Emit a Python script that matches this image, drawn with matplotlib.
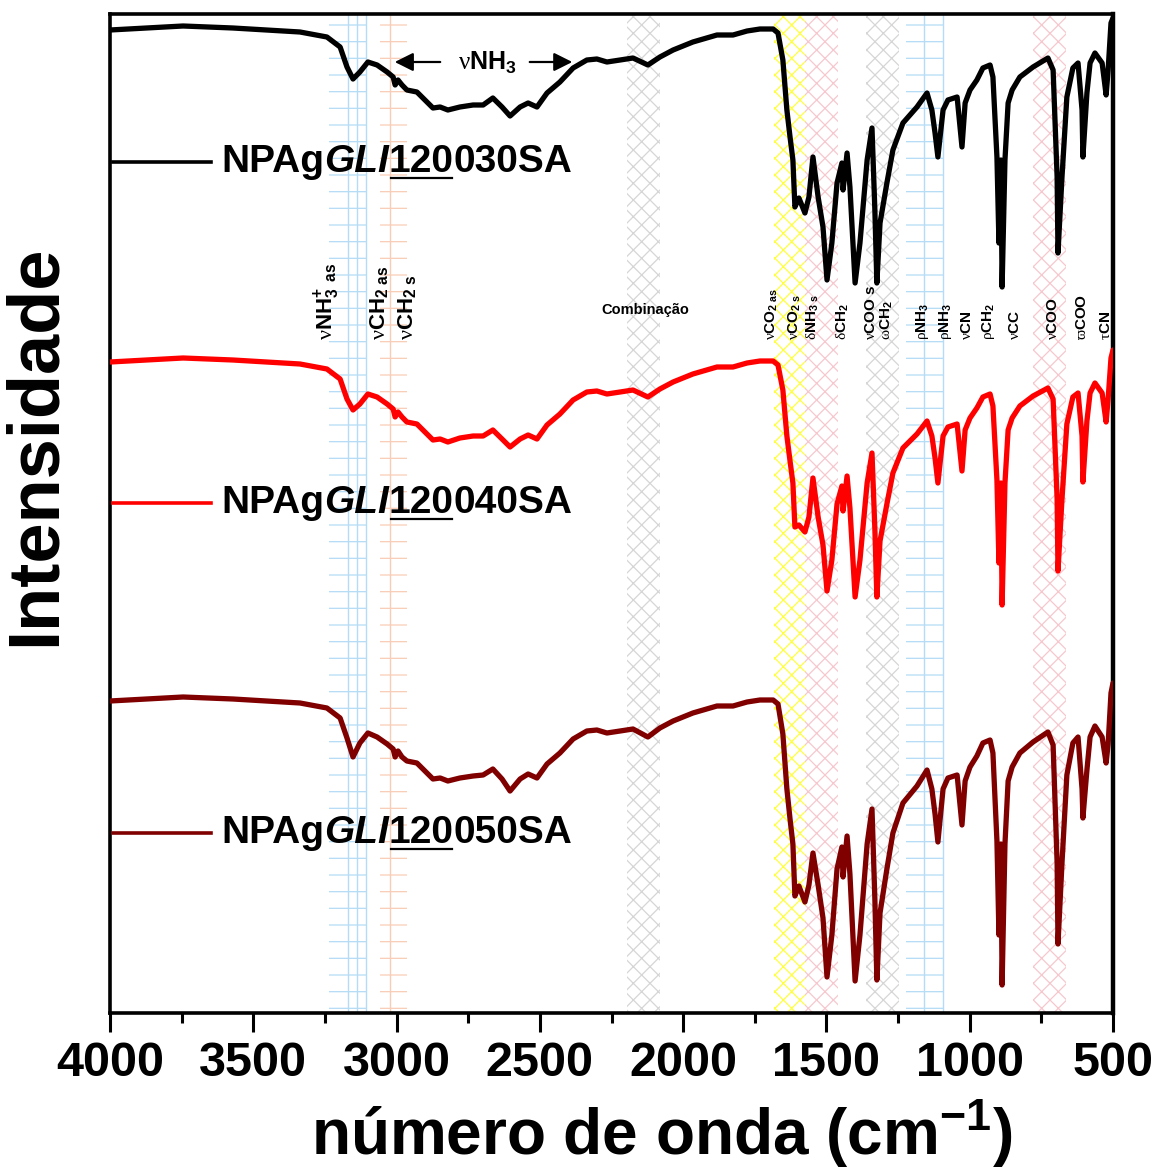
import matplotlib
matplotlib.use("Agg")
import matplotlib.pyplot as plt
from matplotlib.lines import Line2D
from matplotlib.ticker import MultipleLocator

plt.rcParams['font.family'] = ['Liberation Sans', 'DejaVu Sans']
plt.rcParams['mathtext.fontset'] = 'custom'
plt.rcParams['mathtext.rm'] = 'Liberation Serif'
plt.rcParams['mathtext.bf'] = 'Liberation Sans:bold'
plt.rcParams['mathtext.it'] = 'Liberation Sans:italic'
plt.rcParams['hatch.linewidth'] = 0.9

# wavenumber grid (cm-1) shared by the three spectra
wavenumber = [4000, 3745, 3571, 3337, 3243, 3197, 3173, 3152, 3128, 3100, 3068, 3033,
              3012, 3005, 2995, 2981, 2964, 2929, 2894, 2873, 2848, 2821, 2779, 2733,
              2698, 2664, 2632, 2604, 2569, 2541, 2510, 2475, 2430, 2384, 2336, 2301,
              2266, 2220, 2175, 2123, 2081, 2035, 1966, 1882, 1826, 1777, 1732, 1686,
              1669, 1652, 1638, 1627, 1617, 1610, 1596, 1575, 1561, 1547, 1529, 1512,
              1498, 1481, 1463, 1446, 1442, 1428, 1418, 1400, 1383, 1358, 1341, 1331,
              1324, 1313, 1289, 1268, 1233, 1184, 1149, 1132, 1121, 1111, 1093, 1076,
              1044, 1027, 1016, 999, 975, 954, 929, 919, 905, 898, 891, 887,
              877, 866, 852, 825, 779, 727, 709, 695, 692, 678, 661, 640,
              622, 608, 605, 591, 580, 563, 538, 524, 517, 507, 500]

# stacked intensities (arbitrary units, offset per sample)
npag_30 = [98.3, 98.7, 98.5, 98.1, 97.6, 96.6, 94.6, 93.4, 94.1, 95.1, 94.8, 94.1,
           93.6, 92.8, 93.3, 92.8, 92.3, 92.1, 91.1, 90.5, 90.6, 90.3, 90.6, 90.8,
           90.8, 91.5, 90.6, 89.7, 90.6, 91.0, 90.6, 92.0, 93.1, 94.5, 95.3, 95.4,
           95.1, 95.3, 95.5, 94.8, 95.6, 96.3, 97.1, 97.8, 97.8, 98.2, 98.4, 98.4,
           98.0, 95.3, 90.3, 87.6, 85.3, 80.6, 81.5, 80.0, 81.6, 85.6, 81.6, 78.6,
           73.3, 77.0, 83.0, 85.0, 82.3, 86.0, 82.6, 73.0, 77.0, 85.3, 88.5, 80.3,
           73.0, 79.0, 83.0, 86.3, 89.0, 90.6, 92.0, 90.3, 88.0, 85.6, 90.3, 91.3,
           91.6, 86.6, 91.0, 92.3, 93.3, 94.5, 94.8, 93.6, 85.6, 77.0, 85.3, 72.6,
           85.3, 91.0, 92.3, 93.6, 94.6, 95.5, 94.3, 83.6, 76.0, 83.6, 91.6, 94.5,
           95.0, 90.3, 85.6, 92.0, 95.0, 96.0, 95.0, 91.8, 94.3, 99.0, 99.5]

npag_40 = [65.1, 65.5, 65.3, 64.9, 64.4, 63.4, 61.4, 60.3, 60.9, 61.9, 61.6, 60.9,
           60.4, 59.6, 60.1, 59.6, 59.1, 58.9, 57.9, 57.3, 57.4, 57.1, 57.5, 57.7,
           57.7, 58.3, 57.4, 56.6, 57.4, 57.8, 57.4, 58.8, 59.9, 61.3, 62.1, 62.2,
           61.9, 62.1, 62.3, 61.6, 62.4, 63.1, 63.9, 64.6, 64.6, 65.0, 65.2, 65.2,
           64.8, 62.3, 57.7, 55.2, 53.0, 48.6, 48.8, 48.1, 49.6, 53.5, 49.6, 46.8,
           42.2, 45.3, 50.9, 52.7, 50.2, 53.7, 50.5, 41.6, 45.3, 53.0, 56.0, 48.4,
           41.6, 47.2, 50.9, 54.0, 56.5, 57.9, 59.2, 57.7, 55.5, 53.0, 57.7, 58.6,
           58.9, 54.2, 58.3, 59.5, 60.5, 61.6, 61.9, 60.7, 53.3, 45.0, 53.0, 40.8,
           53.0, 58.3, 59.5, 60.7, 61.7, 62.5, 61.4, 51.4, 44.2, 51.4, 58.9, 61.6,
           62.0, 57.7, 53.1, 59.2, 62.0, 63.0, 62.0, 59.1, 61.4, 65.5, 66.3]

npag_50 = [31.2, 31.6, 31.4, 31.0, 30.5, 29.5, 27.5, 25.6, 27.0, 28.0, 27.6, 26.9,
           26.4, 25.6, 26.2, 25.6, 25.2, 25.0, 24.0, 23.4, 23.5, 23.2, 23.5, 23.7,
           23.8, 24.4, 23.4, 22.2, 23.4, 23.9, 23.5, 24.9, 26.0, 27.4, 28.2, 28.3,
           28.0, 28.2, 28.4, 27.6, 28.5, 29.2, 30.0, 30.7, 30.7, 31.1, 31.3, 31.3,
           30.9, 27.9, 22.4, 19.4, 16.9, 11.7, 12.7, 11.1, 12.8, 16.0, 12.8, 9.5,
           3.6, 7.8, 14.4, 16.6, 13.6, 17.7, 13.9, 3.2, 7.8, 16.9, 20.4, 11.4,
           3.3, 10.0, 14.4, 18.0, 21.0, 22.7, 24.3, 22.4, 19.9, 17.1, 22.4, 23.5,
           23.8, 18.8, 23.2, 24.6, 25.7, 27.0, 27.3, 26.0, 17.2, 7.8, 16.9, 2.8,
           16.9, 23.2, 24.6, 26.0, 27.1, 28.1, 26.8, 15.0, 6.9, 15.0, 23.8, 27.0,
           27.6, 22.4, 19.5, 24.3, 27.6, 28.7, 27.6, 25.0, 26.9, 32.0, 33.0]

sample_names = ["030SA", "040SA", "050SA"]
sample_colors = ["black", "#ff0000", "#800000"]
label_levels = [85.1, 51.0, 18.0]

# band assignment regions
band_lo = [3236, 3058, 2196, 1683, 1575, 1362, 1222, 779]
band_hi = [3107, 2964, 2081, 1575, 1460, 1247, 1093, 664]
band_colors = ["#b4dcf6", "#f9ccb6", "#d6d6d6", "#ffff40", "#f6c8ce", "#d6d6d6", "#b4dcf6", "#f6c8ce"]
band_hatch = ["-", "-", "xx", "xx", "xx", "xx", "-", "xx"]
band_lines = [3170, 3139, 3107, 3023, 1159, 1093]
band_line_colors = ["#b4dcf6", "#b4dcf6", "#b4dcf6", "#f9ccb6", "#b4dcf6", "#b4dcf6"]

big_labels = [r"$\mathrm{\nu}\mathbf{NH_{3}^{+}\ {}_{as}}$",
              r"$\mathrm{\nu}\mathbf{CH_{2\ as}}$",
              r"$\mathrm{\nu}\mathbf{CH_{2\ s}}$"]
big_label_pos = [3243, 3058, 2960]
small_labels = [r"$\mathrm{\nu}\mathbf{CO_{2\ as}}$", r"$\mathrm{\nu}\mathbf{CO_{2\ s}}$",
                r"$\mathrm{\delta}\mathbf{NH_{3\ s}}$", r"$\mathrm{\delta}\mathbf{CH_{2}}$",
                r"$\mathrm{\nu}\mathbf{COO\ s}$", r"$\mathrm{\omega}\mathbf{CH_{2}}$",
                r"$\mathrm{\rho}\mathbf{NH_{3}}$", r"$\mathrm{\rho}\mathbf{NH_{3}}$",
                r"$\mathrm{\nu}\mathbf{CN}$", r"$\mathrm{\rho}\mathbf{CH_{2}}$",
                r"$\mathrm{\nu}\mathbf{CC}$", r"$\mathrm{\nu}\mathbf{COO}$",
                r"$\mathrm{\varpi}\mathbf{COO}$", r"$\mathrm{\tau}\mathbf{CN}$"]
small_label_pos = [1690, 1610, 1547, 1442, 1344, 1289, 1166, 1086, 1009, 936, 842, 709, 608, 524]

fig = plt.figure(figsize=(11.66, 11.73), dpi=100)
ax = fig.add_axes([110 / 1166, 1 - 1013 / 1173, 1003 / 1166, 999 / 1173])

for lo, hi, c, h in zip(band_lo, band_hi, band_colors, band_hatch):
    ax.axvspan(lo, hi, facecolor='none', edgecolor=c, hatch=h, linewidth=0, zorder=0)
for xv, c in zip(band_lines, band_line_colors):
    ax.axvline(xv, color=c, lw=1.0, zorder=0)

for ys, c in zip([npag_30, npag_40, npag_50], sample_colors):
    ax.plot(wavenumber, ys, color=c, lw=3.8, zorder=3, solid_joinstyle='round',
            solid_capstyle='round')

ax.set_xlim(4000, 500)
ax.set_ylim(0, 99.9)
ax.set_yticks([])
ax.xaxis.set_major_locator(MultipleLocator(500))
ax.xaxis.set_minor_locator(MultipleLocator(250))
ax.tick_params(axis='x', which='major', length=14, width=2.2, direction='out', pad=6,
               labelsize=35)
ax.tick_params(axis='x', which='minor', length=7, width=2.2, direction='out')
for lab in ax.get_xticklabels():
    lab.set_fontweight('bold')
for sp in ax.spines.values():
    sp.set_linewidth(2.6)
ax.spines['right'].set_linewidth(3.2)

fig.text(36 / 1166, 1 - 445 / 1173, "Intensidade", rotation=90, ha='center', va='center',
         fontsize=52, fontweight='bold')
fig.text(662 / 1166, 1 - 1155 / 1173, r"número de onda (cm$^{\mathbf{-1}}$)", ha='center',
         va='baseline', fontsize=46, fontweight='bold')

# vNH3 broad band with arrows
ax.annotate('', xy=(3016, 95.1), xytext=(2838, 95.1),
            arrowprops=dict(arrowstyle='-|>', color='black', lw=1.6, mutation_scale=28))
ax.annotate('', xy=(2377, 95.1), xytext=(2545, 95.1),
            arrowprops=dict(arrowstyle='-|>', color='black', lw=1.6, mutation_scale=28))
ax.text(2684, 95.0, r"$\mathrm{\nu}\mathbf{NH_{3}}$", ha='center', va='center', fontsize=18)

for lab, xp in zip(big_labels, big_label_pos):
    ax.text(xp, 67.3, lab, rotation=90, ha='center', va='bottom', fontsize=16)
for lab, xp in zip(small_labels, small_label_pos):
    ax.text(xp, 67.3, lab, rotation=90, ha='center', va='bottom', fontsize=11)
ax.text(2133, 70.3, "Combinação", ha='center', va='center', fontsize=10.5, fontweight='bold')

# sample labels with line samples
parts = []
for name, c, yl in zip(sample_names, sample_colors, label_levels):
    ax.plot([3990, 3648], [yl, yl], color=c, lw=2.6, zorder=3)
    t1 = ax.text(3612, yl, "NPAg", fontsize=28, fontweight='bold', ha='left', va='center')
    t2 = ax.annotate("GLI", xy=(1, 0), xycoords=t1, ha='left', va='bottom', fontsize=28,
                     fontweight='bold', style='italic')
    t3 = ax.annotate("120", xy=(1, 0), xycoords=t2, ha='left', va='bottom', fontsize=28,
                     fontweight='bold')
    ax.annotate(name, xy=(1, 0), xycoords=t3, ha='left', va='bottom', fontsize=28,
                fontweight='bold')
    parts.append(t3)

fig.canvas.draw()
inv = fig.transFigure.inverted()
for t3 in parts:
    bb = t3.get_window_extent()
    (x0, y0), (x1, _) = inv.transform([(bb.x0 + 2, bb.y0 + 2), (bb.x1 - 2, bb.y0 + 2)])
    fig.add_artist(Line2D([x0, x1], [y0, y0], color='black', lw=1.6))

fig.savefig("out.png", dpi=100)
